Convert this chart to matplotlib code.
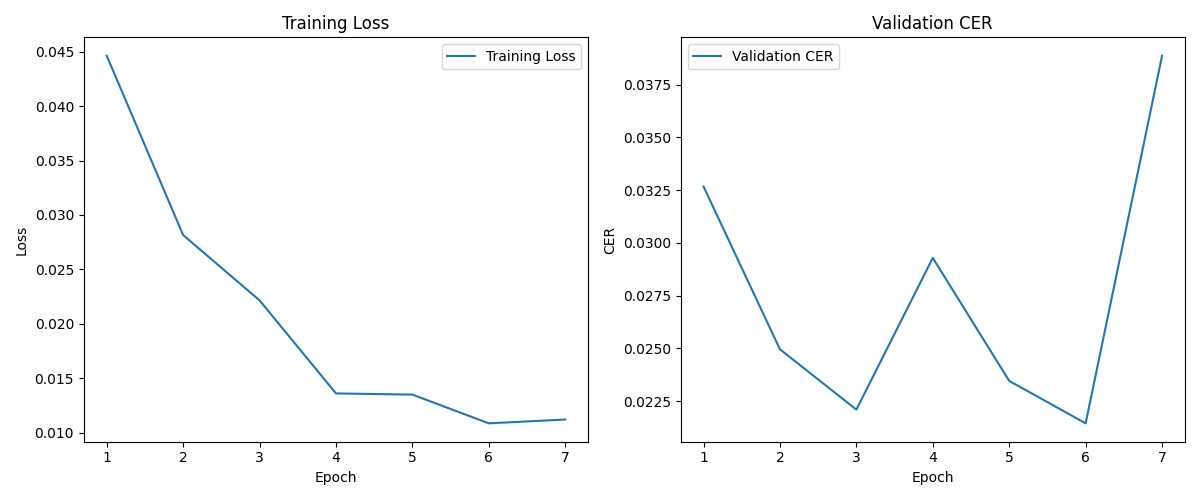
import matplotlib
matplotlib.use('Agg')
from matplotlib import pyplot as plt

epochs = [1, 2, 3, 4, 5, 6, 7]
train_loss = [0.04463, 0.02815, 0.02215, 0.01360, 0.01349, 0.01085, 0.01120]
val_cer = [0.03267, 0.02496, 0.02210, 0.02929, 0.02346, 0.02145, 0.03887]

plt.figure(figsize=(12, 5))

plt.subplot(1, 2, 1)
plt.plot(epochs, train_loss, label='Training Loss')
plt.title('Training Loss')
plt.xlabel('Epoch')
plt.ylabel('Loss')
plt.legend()

plt.subplot(1, 2, 2)
plt.plot(epochs, val_cer, label='Validation CER')
plt.title('Validation CER')
plt.xlabel('Epoch')
plt.ylabel('CER')
plt.legend()

plt.tight_layout()
plt.savefig('out.png', dpi=100)
